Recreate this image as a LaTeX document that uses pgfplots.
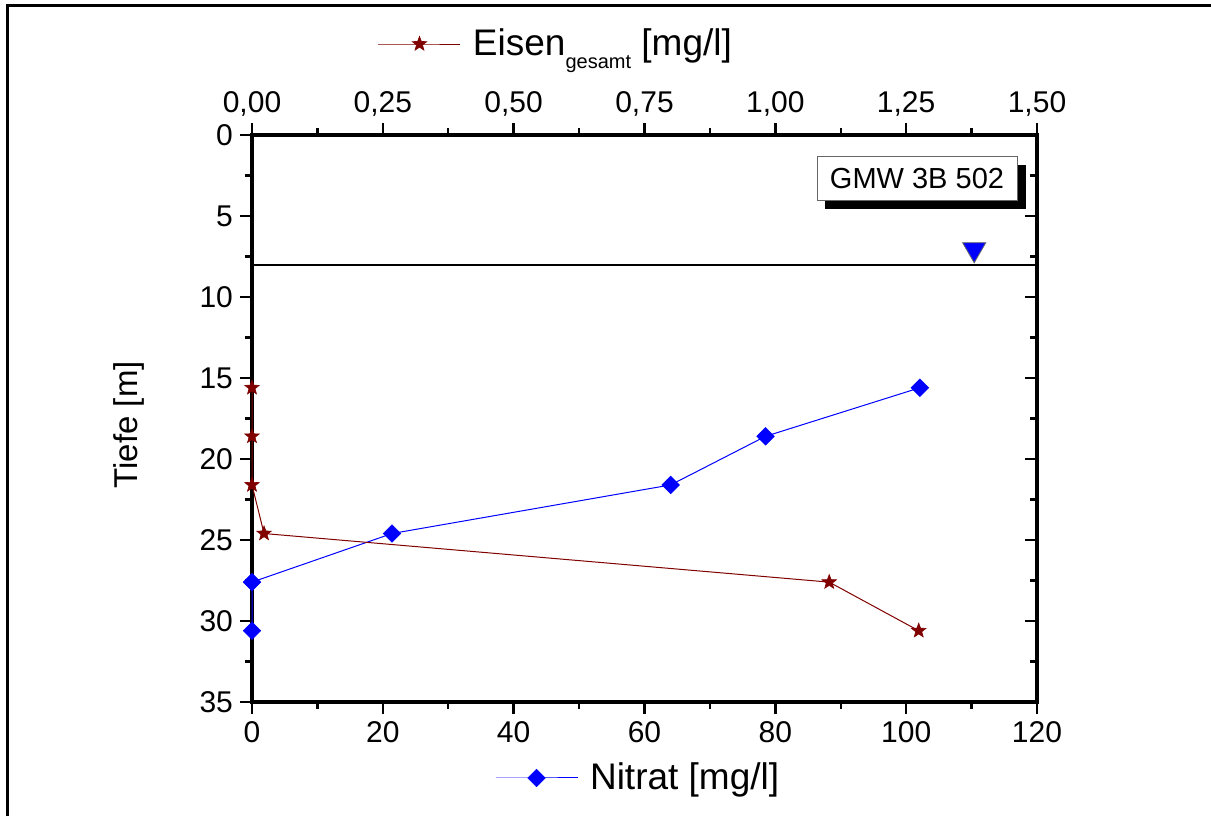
\documentclass[border=0pt]{standalone}
\usepackage{fontspec}
\setmainfont{Liberation Sans}
\usepackage{pgfplots}
\pgfplotsset{compat=1.18}
\definecolor{eisen}{RGB}{128,0,0}
\definecolor{nitrat}{RGB}{0,0,255}
\pgfdeclareplotmark{fstar}{%
  \pgfpathmoveto{\pgfqpointpolar{90}{\pgfplotmarksize}}%
  \pgfpathlineto{\pgfqpointpolar{126}{0.42\pgfplotmarksize}}%
  \pgfpathlineto{\pgfqpointpolar{162}{\pgfplotmarksize}}%
  \pgfpathlineto{\pgfqpointpolar{198}{0.42\pgfplotmarksize}}%
  \pgfpathlineto{\pgfqpointpolar{234}{\pgfplotmarksize}}%
  \pgfpathlineto{\pgfqpointpolar{270}{0.42\pgfplotmarksize}}%
  \pgfpathlineto{\pgfqpointpolar{306}{\pgfplotmarksize}}%
  \pgfpathlineto{\pgfqpointpolar{342}{0.42\pgfplotmarksize}}%
  \pgfpathlineto{\pgfqpointpolar{18}{\pgfplotmarksize}}%
  \pgfpathlineto{\pgfqpointpolar{54}{0.42\pgfplotmarksize}}%
  \pgfpathclose
  \pgfusepathqfillstroke}
\pgfplotsset{
  base/.style={
    at={(126pt,57pt)}, anchor=south west,
    scale only axis, width=392.5pt, height=283.5pt,
    ymin=0, ymax=35, y dir=reverse,
    clip=false,
    tick label style={font=\fontsize{15}{17}\selectfont},
    /pgf/number format/assume math mode=true,
    major tick length=6pt, minor tick length=3.5pt,
    every tick/.style={black, line width=1.2pt},
    axis line style={line width=1.6pt},
  },
  legimg/.style={legend image code/.code={
    \draw[mark repeat=2,mark phase=2,##1] plot coordinates {(0pt,0pt)(20.5pt,0pt)(41pt,0pt)};}},
}
\begin{document}
\begin{tikzpicture}
\useasboundingbox (0pt,0pt) rectangle (605.5pt,408pt);
\draw[line width=1.5pt] (3.5pt,0pt) -- (3.5pt,405pt) -- (610pt,405pt);
% main axis: Nitrat (bottom), Tiefe (left)
\begin{axis}[base,
  xmin=0, xmax=120,
  xtick={0,20,...,120}, minor xtick={10,30,...,110},
  ytick={0,5,...,35}, minor ytick={2.5,7.5,...,32.5},
  xtick pos=bottom, ytick pos=left, tick align=outside,
  ylabel={Tiefe [m]},
  ylabel style={at={(axis description cs:-0.157,0.489)}, anchor=center, font=\fontsize{16.5}{20}\selectfont},
  legimg,
  legend style={at={(0.3096,-0.134)}, anchor=west, draw=none, fill=none,
    inner sep=0pt, outer sep=0pt, column sep=6pt,
    font=\fontsize{18.5}{21}\selectfont, nodes={inner sep=0pt}},
]
\addplot[nitrat, line width=0.5pt, mark=square*, mark size=3.1pt,
  mark options={rotate=45, fill=nitrat, draw=nitrat, line width=0.3pt}]
  coordinates {(102.1,15.6) (78.5,18.6) (64.0,21.6) (21.4,24.6) (0,27.6) (0,30.6)};
\addlegendentry{Nitrat [mg/l]}
\addplot[black, line width=0.6pt, forget plot] coordinates {(0,8.02) (120,8.02)};
\addplot[only marks, mark=triangle*, mark size=6.7pt,
  mark options={rotate=180, fill=nitrat, draw=black!60, line width=0.4pt}, forget plot]
  coordinates {(110.4,7.06)};
\end{axis}
% Eisen axis (top)
\begin{axis}[base,
  xmin=0, xmax=1.5,
  xtick={0,0.25,...,1.5}, minor xtick={0.125,0.375,...,1.375},
  xticklabels={{0,00},{0,25},{0,50},{0,75},{1,00},{1,25},{1,50}},
  ytick=\empty, xtick pos=top, xticklabel pos=top, tick align=outside,
  axis line style={draw=none},
  legimg,
  legend style={at={(0.1605,1.1605)}, anchor=west, draw=none, fill=none,
    inner sep=0pt, outer sep=0pt, column sep=6pt,
    font=\fontsize{18.5}{21}\selectfont, nodes={inner sep=0pt}},
]
\addplot[eisen, line width=0.5pt, mark=fstar, mark size=3.8pt,
  mark options={fill=eisen, draw=eisen, line width=0.3pt}]
  coordinates {(0,15.6) (0,18.6) (0,21.6) (0.023,24.6) (1.103,27.6) (1.274,30.6)};
\addlegendentry{Eisen\raisebox{-6.5pt}{\fontsize{10}{12}\selectfont gesamt} [mg/l]}
\end{axis}
% right axis ticks (inside)
\begin{axis}[base,
  xmin=0, xmax=120, xtick=\empty,
  ytick={0,5,...,35}, minor ytick={2.5,7.5,...,32.5},
  ytick pos=right, yticklabels={}, tick align=inside,
  axis line style={draw=none},
]
\end{axis}
% label box with shadow
\fill[black] (412.5pt,303.5pt) rectangle (513pt,325.5pt);
\draw[fill=white, draw=black!60, line width=0.5pt] (408.5pt,307.5pt) rectangle (508.5pt,329.5pt);
\node[font=\fontsize{14.5}{16}\selectfont] at (458.5pt,318.5pt) {GMW 3B 502};
\end{tikzpicture}
\end{document}
